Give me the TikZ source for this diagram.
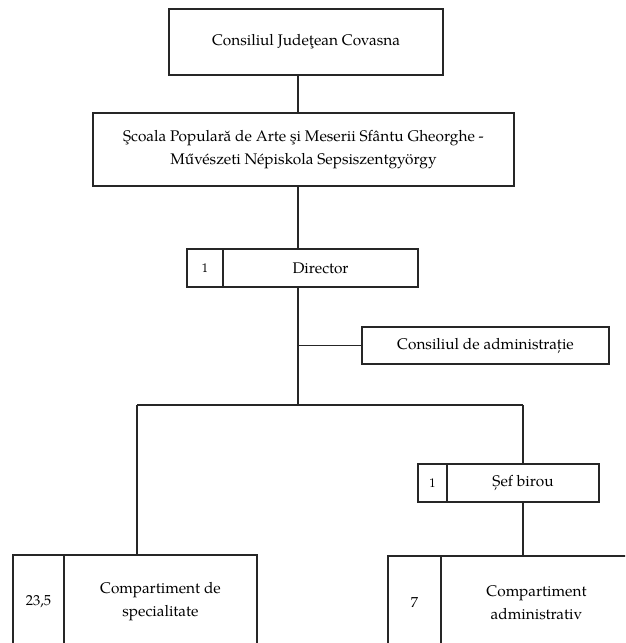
\documentclass[tikz,border=0pt]{standalone}
\usepackage{fontspec}
\setmainfont{texgyrepagella}[Extension=.otf, UprightFont=*-regular, BoldFont=*-bold, ItalicFont=*-italic, BoldItalicFont=*-bolditalic]
\begin{document}
\begin{tikzpicture}[x=1pt,y=-1pt,
  box/.style={draw=black!85, line width=1.7pt, rectangle, inner sep=0pt, align=center, font=\fontsize{15.4}{23}\selectfont},
  numbox/.style={box, font=\fontsize{12.5}{14}\selectfont},
  link/.style={draw=black!85, line width=1.7pt}]
\useasboundingbox (0,0) rectangle (625,643);
\clip (0,0) rectangle (625,643);
% boxes
\node[box, minimum width=274pt, minimum height=66pt] (cj) at (306,42) {Consiliul Judeţean Covasna};
\node[box, minimum width=421pt, minimum height=73pt] (scoala) at (303.5,149.5) {Şcoala Populară de Arte şi Meserii Sfântu Gheorghe -\\Művészeti Népiskola Sepsiszentgyörgy};
\node[numbox, minimum width=36pt, minimum height=38pt] (dirn) at (205,268) {1};
\node[box, minimum width=195pt, minimum height=38pt] (dir) at (320.5,268) {Director};
\node[box, minimum width=247pt, minimum height=37pt] (ca) at (485.5,345.5) {Consiliul de administrație};
\node[numbox, minimum width=29pt, minimum height=38pt] (sefn) at (432.5,483) {1};
\node[box, minimum width=152pt, minimum height=38pt] (sef) at (523,483) {Șef birou};
\node[box, minimum width=51pt, minimum height=94pt, font=\fontsize{14.5}{17}\selectfont] (specn) at (38.5,602) {23,5};
\node[box, minimum width=193pt, minimum height=94pt] (spec) at (160.5,602) {Compartiment de\\specialitate};
\node[box, minimum width=53pt, minimum height=94pt, font=\fontsize{14.5}{17}\selectfont] (admn) at (414.5,603) {7};
\node[box, minimum width=191pt, minimum height=94pt] (adm) at (536.5,603) {Compartiment\\administrativ};
% connector coordinates
\coordinate (spine) at (298,0);
\coordinate (bus) at (298,405);
\coordinate (busl) at (137,405);
\coordinate (busr) at (523,405);
% connectors
\draw[link] (spine |- cj.south) -- (spine |- scoala.north);
\draw[link] (spine |- scoala.south) -- (spine |- dir.north);
\draw[link] (spine |- dir.south) -- (bus);
\draw[link] (spine |- ca.west) -- (ca.west);
\draw[link] (busl) -- (busr);
\draw[link] (busl) -- (busl |- spec.north);
\draw[link] (busr) -- (sef.north);
\draw[link] (sef.south) -- (sef.south |- adm.north);
\end{tikzpicture}
\end{document}
